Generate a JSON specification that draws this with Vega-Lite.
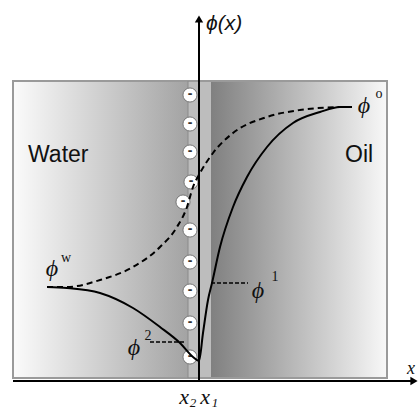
{
  "$schema": "https://vega.github.io/schema/vega-lite/v6.json",
  "width": 419,
  "height": 410,
  "autosize": "none",
  "padding": 0,
  "background": "white",
  "config": {"view": {"stroke": null}},
  "datasets": {
    "regions": [
      {"name": "water", "x": -186, "x2": -11, "y": 3, "y2": 300},
      {"name": "interface", "x": -11, "x2": 12, "y": 3, "y2": 300},
      {"name": "oil", "x": 12, "x2": 188, "y": 3, "y2": 300}
    ],
    "charges": [
      {"x": -9, "y": 286}, {"x": -9, "y": 257}, {"x": -9, "y": 229},
      {"x": -8, "y": 199}, {"x": -16, "y": 179}, {"x": -9, "y": 151},
      {"x": -9, "y": 119}, {"x": -9, "y": 90}, {"x": -9, "y": 58},
      {"x": -9, "y": 24}
    ],
    "dashed": [
      {"o": 1, "x": -152, "y": 94}, {"o": 2, "x": -132, "y": 94},
      {"o": 3, "x": -99, "y": 101}, {"o": 4, "x": -66, "y": 114},
      {"o": 5, "x": -39, "y": 134}, {"o": 6, "x": -22, "y": 154},
      {"o": 7, "x": -12, "y": 174}, {"o": 8, "x": -6, "y": 194},
      {"o": 9, "x": 1, "y": 208}, {"o": 10, "x": 14, "y": 228},
      {"o": 11, "x": 34, "y": 248}, {"o": 12, "x": 68, "y": 264},
      {"o": 13, "x": 101, "y": 271}, {"o": 14, "x": 141, "y": 274}
    ],
    "solid": [
      {"o": 1, "x": -152, "y": 94}, {"o": 2, "x": -132, "y": 93},
      {"o": 3, "x": -99, "y": 88}, {"o": 4, "x": -66, "y": 73},
      {"o": 5, "x": -39, "y": 54}, {"o": 6, "x": -19, "y": 38},
      {"o": 7, "x": -6, "y": 24}, {"o": 8, "x": 0, "y": 20},
      {"o": 9, "x": 4, "y": 48}, {"o": 10, "x": 9, "y": 81},
      {"o": 11, "x": 13, "y": 98}, {"o": 12, "x": 21, "y": 134},
      {"o": 13, "x": 34, "y": 174}, {"o": 14, "x": 48, "y": 204},
      {"o": 15, "x": 68, "y": 234}, {"o": 16, "x": 94, "y": 258},
      {"o": 17, "x": 121, "y": 269}, {"o": 18, "x": 141, "y": 274},
      {"o": 19, "x": 153, "y": 274}
    ],
    "leaders": [
      {"name": "phi1", "x": 12, "x2": 49, "y": 98},
      {"name": "phi2", "x": -49, "x2": -13, "y": 39}
    ],
    "axes": [
      {"name": "xaxis", "x": -186, "x2": 213, "y": 0, "y2": 0},
      {"name": "yaxis", "x": 0, "x2": 0, "y": 0, "y2": 360}
    ],
    "arrows": [
      {"name": "x", "x": 215, "y": 0, "shape": "triangle-right"},
      {"name": "y", "x": 0, "y": 362, "shape": "triangle-up"}
    ],
    "sansLabels": [
      {"label": "Water", "x": -171, "y": 226},
      {"label": "Oil", "x": 146, "y": 226}
    ],
    "phis": [
      {"label": "ϕ", "x": 165, "y": 275},
      {"label": "ϕ", "x": -147, "y": 112},
      {"label": "ϕ", "x": 59, "y": 90},
      {"label": "ϕ", "x": -65, "y": 33}
    ],
    "sups": [
      {"label": "o", "x": 180, "y": 287},
      {"label": "w", "x": -133, "y": 123},
      {"label": "1", "x": 76, "y": 104},
      {"label": "2", "x": -51, "y": 45}
    ],
    "xs": [
      {"label": "x", "x": -15, "y": -16},
      {"label": "x", "x": 6, "y": -16}
    ],
    "axisX": [
      {"label": "x", "x": 212, "y": 12}
    ],
    "subs": [
      {"label": "2", "x": -6, "y": -22},
      {"label": "1", "x": 16, "y": -22}
    ]
  },
  "layer": [
    {
      "data": {"name": "regions"},
      "transform": [{"filter": "datum.name === 'water'"}],
      "mark": {"type": "rect", "fill": {"gradient": "linear", "x1": 0, "y1": 0, "x2": 1, "y2": 0, "stops": [{"offset": 0, "color": "#fbfbfb"}, {"offset": 1, "color": "#a3a3a3"}]}},
      "encoding": {
        "x": {"field": "x", "type": "quantitative", "scale": {"domain": [-199, 220], "nice": false, "zero": false}, "axis": null},
        "x2": {"field": "x2"},
        "y": {"field": "y", "type": "quantitative", "scale": {"domain": [-29, 381], "nice": false, "zero": false}, "axis": null},
        "y2": {"field": "y2"}
      }
    },
    {
      "data": {"name": "regions"},
      "transform": [{"filter": "datum.name === 'interface'"}],
      "mark": {"type": "rect", "fill": "#bdbdbd"},
      "encoding": {
        "x": {"field": "x", "type": "quantitative"},
        "x2": {"field": "x2"},
        "y": {"field": "y", "type": "quantitative"},
        "y2": {"field": "y2"}
      }
    },
    {
      "data": {"name": "regions"},
      "transform": [{"filter": "datum.name === 'oil'"}],
      "mark": {"type": "rect", "fill": {"gradient": "linear", "x1": 0, "y1": 0, "x2": 1, "y2": 0, "stops": [{"offset": 0, "color": "#808080"}, {"offset": 1, "color": "#f8f8f8"}]}},
      "encoding": {
        "x": {"field": "x", "type": "quantitative"},
        "x2": {"field": "x2"},
        "y": {"field": "y", "type": "quantitative"},
        "y2": {"field": "y2"}
      }
    },
    {
      "data": {"values": [{"x": -186, "x2": 188, "y": 3, "y2": 300}]},
      "mark": {"type": "rect", "fill": null, "stroke": "#9a9a9a", "strokeWidth": 2},
      "encoding": {
        "x": {"field": "x", "type": "quantitative"},
        "x2": {"field": "x2"},
        "y": {"field": "y", "type": "quantitative"},
        "y2": {"field": "y2"}
      }
    },
    {
      "data": {"values": [{"x": -11, "y": 3, "y2": 300}]},
      "mark": {"type": "rule", "stroke": "#8a8a8a", "strokeWidth": 1},
      "encoding": {
        "x": {"field": "x", "type": "quantitative"},
        "y": {"field": "y", "type": "quantitative"},
        "y2": {"field": "y2"}
      }
    },
    {
      "data": {"name": "charges"},
      "mark": {"type": "point", "shape": "circle", "filled": true, "fill": "white", "stroke": "#777777", "strokeWidth": 1, "size": 200, "opacity": 1, "fillOpacity": 1, "strokeOpacity": 1},
      "encoding": {
        "x": {"field": "x", "type": "quantitative"},
        "y": {"field": "y", "type": "quantitative"}
      }
    },
    {
      "data": {"name": "charges"},
      "mark": {"type": "text", "text": "-", "font": "Liberation Sans", "fontSize": 14, "fontWeight": "bold", "color": "#333333", "baseline": "middle", "align": "center", "dy": -1},
      "encoding": {
        "x": {"field": "x", "type": "quantitative"},
        "y": {"field": "y", "type": "quantitative"}
      }
    },
    {
      "data": {"name": "dashed"},
      "mark": {"type": "line", "color": "black", "strokeWidth": 2, "strokeDash": [6, 4], "interpolate": "monotone"},
      "encoding": {
        "x": {"field": "x", "type": "quantitative"},
        "y": {"field": "y", "type": "quantitative"},
        "order": {"field": "o"}
      }
    },
    {
      "data": {"name": "solid"},
      "mark": {"type": "line", "color": "black", "strokeWidth": 2, "interpolate": "monotone"},
      "encoding": {
        "x": {"field": "x", "type": "quantitative"},
        "y": {"field": "y", "type": "quantitative"},
        "order": {"field": "o"}
      }
    },
    {
      "data": {"name": "leaders"},
      "mark": {"type": "rule", "color": "black", "strokeWidth": 1.5, "strokeDash": [4, 2]},
      "encoding": {
        "x": {"field": "x", "type": "quantitative"},
        "x2": {"field": "x2"},
        "y": {"field": "y", "type": "quantitative"}
      }
    },
    {
      "data": {"name": "axes"},
      "mark": {"type": "rule", "color": "black", "strokeWidth": 2},
      "encoding": {
        "x": {"field": "x", "type": "quantitative"},
        "x2": {"field": "x2"},
        "y": {"field": "y", "type": "quantitative"},
        "y2": {"field": "y2"}
      }
    },
    {
      "data": {"name": "arrows"},
      "mark": {"type": "point", "filled": true, "color": "black", "size": 70, "opacity": 1},
      "encoding": {
        "x": {"field": "x", "type": "quantitative"},
        "y": {"field": "y", "type": "quantitative"},
        "shape": {"field": "shape", "type": "nominal", "scale": null}
      }
    },
    {
      "data": {"name": "sansLabels"},
      "mark": {"type": "text", "font": "Liberation Sans", "fontSize": 23, "align": "left", "baseline": "middle", "color": "#111111"},
      "encoding": {
        "x": {"field": "x", "type": "quantitative"},
        "y": {"field": "y", "type": "quantitative"},
        "text": {"field": "label"}
      }
    },
    {
      "data": {"values": [{"label": "ϕ(x)", "x": 7, "y": 357}]},
      "mark": {"type": "text", "font": "Liberation Sans", "fontSize": 21, "fontStyle": "italic", "align": "left", "baseline": "middle", "color": "#111111"},
      "encoding": {
        "x": {"field": "x", "type": "quantitative"},
        "y": {"field": "y", "type": "quantitative"},
        "text": {"field": "label"}
      }
    },
    {
      "data": {"name": "phis"},
      "mark": {"type": "text", "font": "Liberation Serif", "fontSize": 24, "fontStyle": "italic", "align": "center", "baseline": "middle", "color": "#111111"},
      "encoding": {
        "x": {"field": "x", "type": "quantitative"},
        "y": {"field": "y", "type": "quantitative"},
        "text": {"field": "label"}
      }
    },
    {
      "data": {"name": "sups"},
      "mark": {"type": "text", "font": "Liberation Serif", "fontSize": 14, "align": "center", "baseline": "middle", "color": "#111111"},
      "encoding": {
        "x": {"field": "x", "type": "quantitative"},
        "y": {"field": "y", "type": "quantitative"},
        "text": {"field": "label"}
      }
    },
    {
      "data": {"name": "xs"},
      "mark": {"type": "text", "font": "Liberation Serif", "fontSize": 22, "fontStyle": "italic", "align": "center", "baseline": "middle", "color": "#111111"},
      "encoding": {
        "x": {"field": "x", "type": "quantitative"},
        "y": {"field": "y", "type": "quantitative"},
        "text": {"field": "label"}
      }
    },
    {
      "data": {"name": "axisX"},
      "mark": {"type": "text", "font": "Liberation Serif", "fontSize": 18, "fontStyle": "italic", "align": "center", "baseline": "middle", "color": "#111111"},
      "encoding": {
        "x": {"field": "x", "type": "quantitative"},
        "y": {"field": "y", "type": "quantitative"},
        "text": {"field": "label"}
      }
    },
    {
      "data": {"name": "subs"},
      "mark": {"type": "text", "font": "Liberation Serif", "fontSize": 13, "fontStyle": "italic", "align": "center", "baseline": "middle", "color": "#111111"},
      "encoding": {
        "x": {"field": "x", "type": "quantitative"},
        "y": {"field": "y", "type": "quantitative"},
        "text": {"field": "label"}
      }
    }
  ]
}
